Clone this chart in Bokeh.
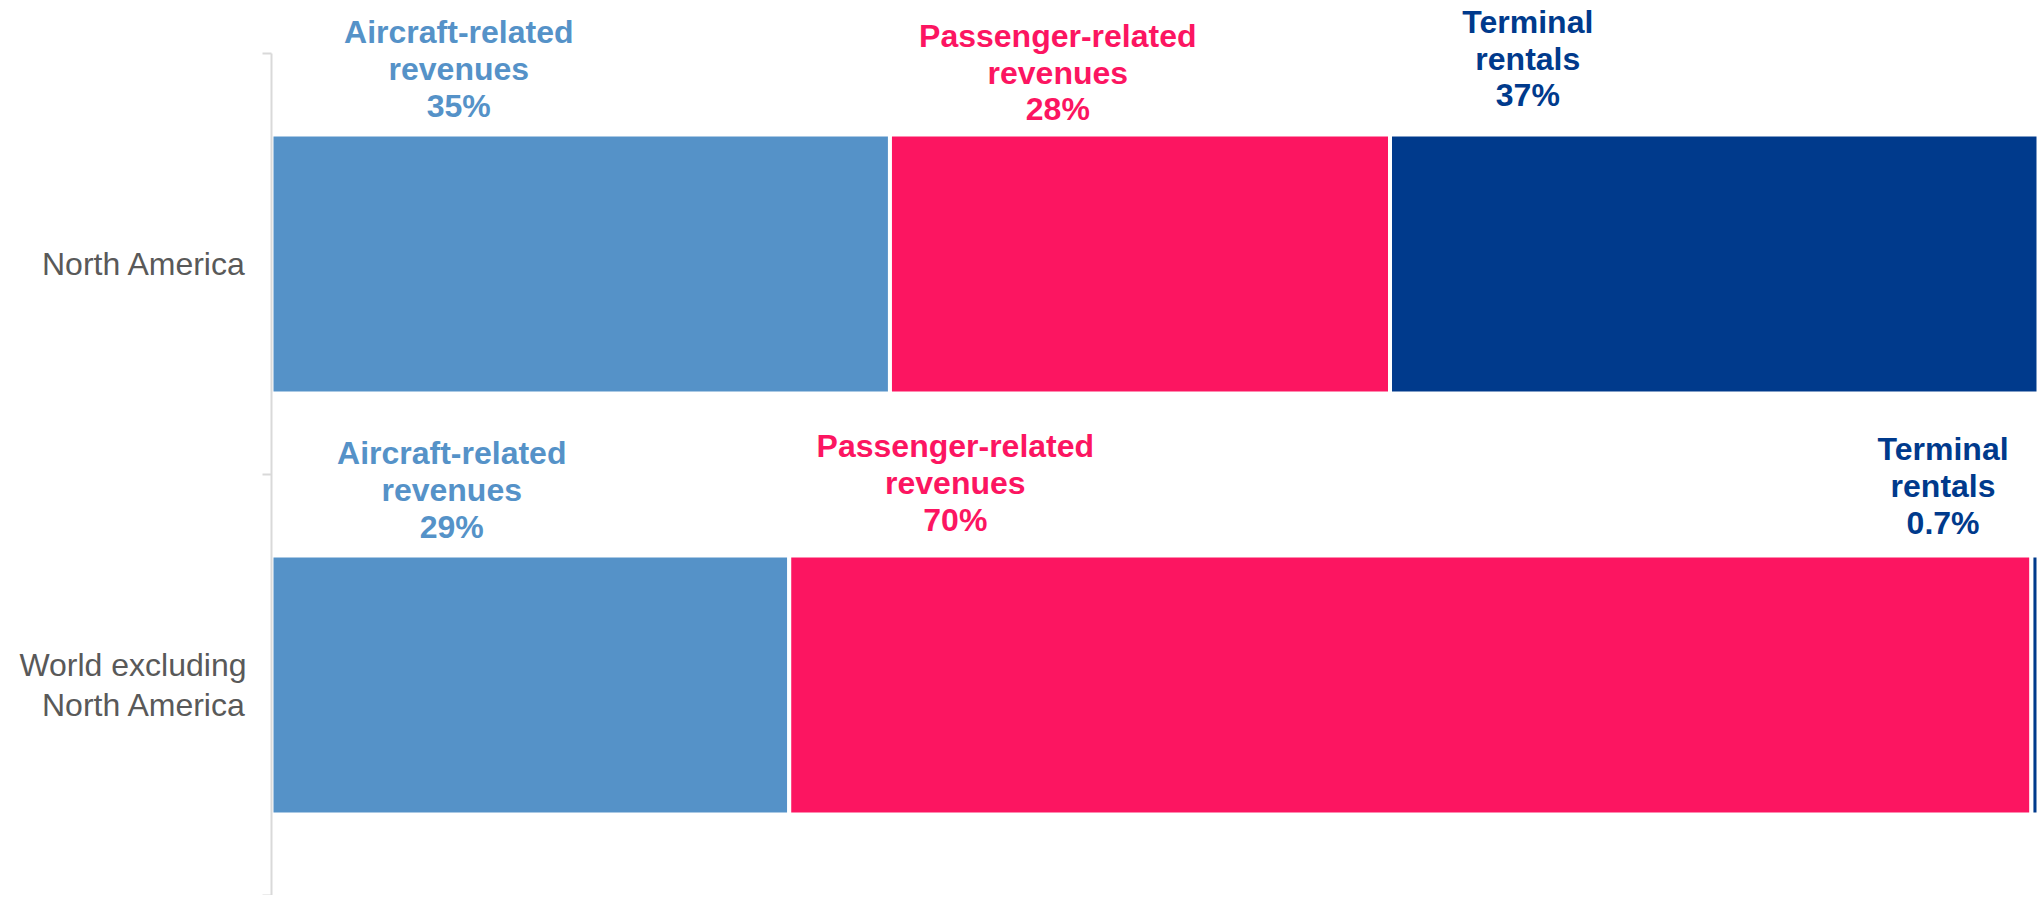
from bokeh.plotting import figure
from bokeh.models import ColumnDataSource, Label, FixedTicker, Range1d
from bokeh.embed import file_html
from bokeh.resources import INLINE

# ---- data ----
regions = ["North America", "World excluding\nNorth America"]
segments = ["aircraft", "passenger", "terminal"]
segment_names = [["Aircraft-related", "revenues"], ["Passenger-related", "revenues"], ["Terminal", "rentals"]]
aircraft = [35.0, 29.3]
passenger = [28.3, 70.3]
terminal = [36.7, 0.7]
pct_labels = [["35%", "28%", "37%"], ["29%", "70%", "0.7%"]]
colors = ["#5592C8", "#FC1561", "#003A8C"]

# label anchors: x in %, y = baseline of the middle line (axis units)
label_x = [[10.6, 44.5, 71.1], [10.2, 38.7, 94.6]]
label_y = [[1.9635, 1.9549, 1.9880], [0.9630, 0.9798, 0.9725]]
LINE_STEP = 36.7   # px between label lines
TOP_PAD = 0.126    # empty room above the first category (axis units)

n = len(regions)
ys = [n - i - 0.5 for i in range(n)]

source = ColumnDataSource(dict(y=ys, aircraft=aircraft, passenger=passenger, terminal=terminal))

p = figure(width=2038, height=895, output_backend="svg", toolbar_location=None,
           x_range=Range1d(0, 100), y_range=Range1d(0, n + TOP_PAD),
           x_axis_location=None,
           min_border_left=271, min_border_right=0, min_border_top=0, min_border_bottom=0)
p.outline_line_color = None
p.grid.visible = False
p.background_fill_color = "white"
p.border_fill_color = "white"

p.hbar_stack(segments, y="y", height=0.615, color=colors, line_color="white",
             line_width=4, source=source)

ax = p.yaxis[0]
ax.bounds = (0, n)
ax.ticker = FixedTicker(ticks=ys, minor_ticks=[float(k) for k in range(n + 1)])
ax.major_tick_line_color = None
ax.major_tick_out = 0
ax.major_tick_in = 0
ax.minor_tick_line_color = "#d9d9d9"
ax.minor_tick_line_width = 2
ax.minor_tick_out = 9
ax.minor_tick_in = 0
ax.axis_line_color = "#d9d9d9"
ax.axis_line_width = 2
ax.major_label_overrides = {y: r for y, r in zip(ys, regions)}
ax.major_label_standoff = 16
ax.major_label_text_font = "Liberation Sans"
ax.major_label_text_font_size = "32px"
ax.major_label_text_color = "#595959"
ax.major_label_text_line_height = 1.1

for i in range(n):
    for j in range(len(segments)):
        lines = segment_names[j] + [pct_labels[i][j]]
        for k, line in enumerate(lines):
            p.add_layout(Label(x=label_x[i][j], y=label_y[i][j], text=line,
                               y_offset=(1 - k) * LINE_STEP,
                               text_color=colors[j], text_align="center",
                               text_baseline="alphabetic",
                               text_font="Liberation Sans", text_font_style="bold",
                               text_font_size="32px"))

open("out.html", "w").write(file_html(p, INLINE))
